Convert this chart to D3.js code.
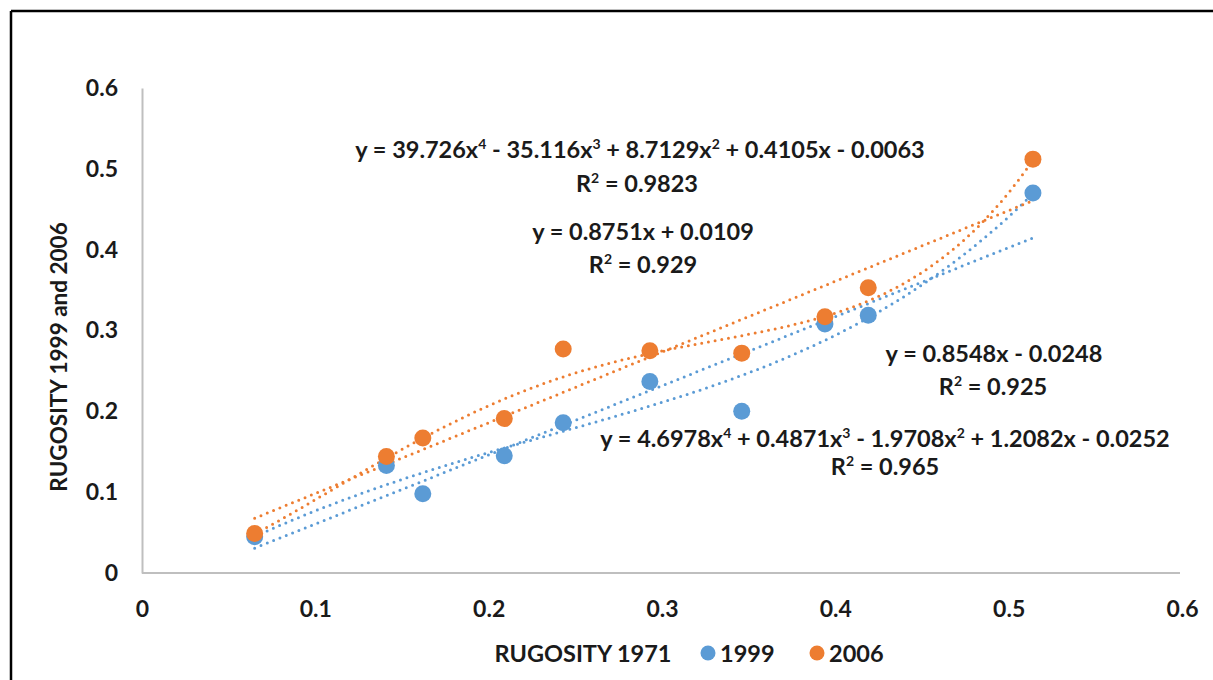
<!DOCTYPE html>
<html>
<head>
<meta charset="utf-8">
<script src="https://cdn.jsdelivr.net/npm/d3@7"></script>
<style>
  body { margin: 0; background: #fff; }
  svg text { font-family: Lato, "Liberation Sans", sans-serif; font-weight: bold; fill: #1a1a1a; }
</style>
</head>
<body>
<svg id="chart" width="1213" height="680"></svg>
<script>
// rugosity values
var rug1971 = [0.065, 0.141, 0.162, 0.209, 0.243, 0.293, 0.346, 0.394, 0.419, 0.514];
var rug1999 = [0.045, 0.133, 0.098, 0.145, 0.186, 0.237, 0.200, 0.308, 0.319, 0.470];
var rug2006 = [0.049, 0.144, 0.167, 0.191, 0.277, 0.275, 0.272, 0.317, 0.353, 0.512];
var xTicks = [0, 0.1, 0.2, 0.3, 0.4, 0.5, 0.6];
var yTicks = [0, 0.1, 0.2, 0.3, 0.4, 0.5, 0.6];

// trendline coefficients as printed (constant term first)
var lin1999 = [-0.0248, 0.8548];
var lin2006 = [0.0109, 0.8751];
var poly1999 = [-0.0252, 1.2082, -1.9708, 0.4871, 4.6978];
var poly2006 = [-0.0063, 0.4105, 8.7129, -35.116, 39.726];

var blue = "#5b9bd5", orange = "#ed7d31";

var svg = d3.select("#chart");

// frame: only top and left edges show
svg.append("line").attr("x1", 11).attr("x2", 1213).attr("y1", 11).attr("y2", 11)
    .attr("stroke", "#000").attr("stroke-width", 2.5);
svg.append("line").attr("x1", 11).attr("x2", 11).attr("y1", 11).attr("y2", 680)
    .attr("stroke", "#000").attr("stroke-width", 2.5);

var x = d3.scaleLinear().domain([0, 0.6]).range([142, 1182]),
    y = d3.scaleLinear().domain([0, 0.6]).range([573, 88]);

var fmt = function(d) { return d === 0 ? "0" : d3.format(".1f")(d); };

var gx = svg.append("g").attr("transform", "translate(0,573)")
    .call(d3.axisBottom(x).tickValues(xTicks).tickFormat(fmt).tickSize(0).tickPadding(28));
var gy = svg.append("g").attr("transform", "translate(142,0)")
    .call(d3.axisLeft(y).tickValues(yTicks).tickFormat(fmt).tickSize(0).tickPadding(24));
[gx, gy].forEach(function(g) {
  g.select(".domain").attr("stroke", "#bfbfbf").attr("stroke-width", 2);
  g.selectAll("text").attr("font-size", 23).attr("font-family", null).attr("fill", null);
});
gx.select(".domain").attr("d", "M142,0H1180");

function evalPoly(c, v) {
  var s = 0;
  for (var i = c.length - 1; i >= 0; i--) s = s * v + c[i];
  return s;
}

var lo = d3.min(rug1971), hi = d3.max(rug1971);
var xs = d3.range(0, 101).map(function(i) { return lo + (hi - lo) * i / 100; });
var line = d3.line().x(function(d) { return x(d[0]); }).y(function(d) { return y(d[1]); });

var trends = [
  {c: lin1999, color: blue},
  {c: poly1999, color: blue},
  {c: lin2006, color: orange},
  {c: poly2006, color: orange}
];
svg.selectAll(".trend").data(trends).enter().append("path")
    .attr("class", "trend")
    .attr("d", function(t) { return line(xs.map(function(v) { return [v, evalPoly(t.c, v)]; })); })
    .attr("fill", "none")
    .attr("stroke", function(t) { return t.color; })
    .attr("stroke-width", 3)
    .attr("stroke-linecap", "round")
    .attr("stroke-dasharray", "0 6.8");

svg.selectAll(".p1999").data(rug1971).enter().append("circle")
    .attr("class", "p1999")
    .attr("cx", function(d) { return x(d); })
    .attr("cy", function(d, i) { return y(rug1999[i]); })
    .attr("r", 8.5).attr("fill", blue);
svg.selectAll(".p2006").data(rug1971).enter().append("circle")
    .attr("class", "p2006")
    .attr("cx", function(d) { return x(d); })
    .attr("cy", function(d, i) { return y(rug2006[i]); })
    .attr("r", 8.5).attr("fill", orange);

// equation labels; objects are superscripts
function eq(cx, cy, parts) {
  var t = svg.append("text").attr("x", cx).attr("y", cy)
      .attr("text-anchor", "middle").attr("font-size", 23.5);
  var raised = false;
  parts.forEach(function(p) {
    if (typeof p === "string") {
      t.append("tspan").attr("dy", raised ? 9 : 0).text(p);
      raised = false;
    } else {
      t.append("tspan").attr("dy", -9).attr("font-size", 14).text(p.sup);
      raised = true;
    }
  });
  return t;
}
eq(640, 158, ["y = 39.726x", {sup: "4"}, " - 35.116x", {sup: "3"}, " + 8.7129x", {sup: "2"}, " + 0.4105x - 0.0063"]);
eq(637, 192, ["R", {sup: "2"}, " = 0.9823"]);
eq(643, 240, ["y = 0.8751x + 0.0109"]);
eq(643, 273, ["R", {sup: "2"}, " = 0.929"]);
eq(994, 362, ["y = 0.8548x - 0.0248"]);
eq(993, 395, ["R", {sup: "2"}, " = 0.925"]);
eq(885, 447, ["y = 4.6978x", {sup: "4"}, " + 0.4871x", {sup: "3"}, " - 1.9708x", {sup: "2"}, " + 1.2082x - 0.0252"]);
eq(885, 475, ["R", {sup: "2"}, " = 0.965"]);

// y title
svg.append("text")
    .attr("transform", "translate(67,357) rotate(-90)")
    .attr("text-anchor", "middle").attr("font-size", 22.5)
    .text("RUGOSITY 1999 and 2006");

// x title + legend
svg.append("text").attr("x", 583).attr("y", 662).attr("text-anchor", "middle")
    .attr("font-size", 23.5).text("RUGOSITY 1971");
var legend = [{name: "1999", color: blue, cx: 708}, {name: "2006", color: orange, cx: 817}];
legend.forEach(function(l) {
  svg.append("circle").attr("cx", l.cx).attr("cy", 653).attr("r", 7.5).attr("fill", l.color);
  svg.append("text").attr("x", l.cx + 12).attr("y", 662).attr("font-size", 23.5).text(l.name);
});
</script>
</body>
</html>
